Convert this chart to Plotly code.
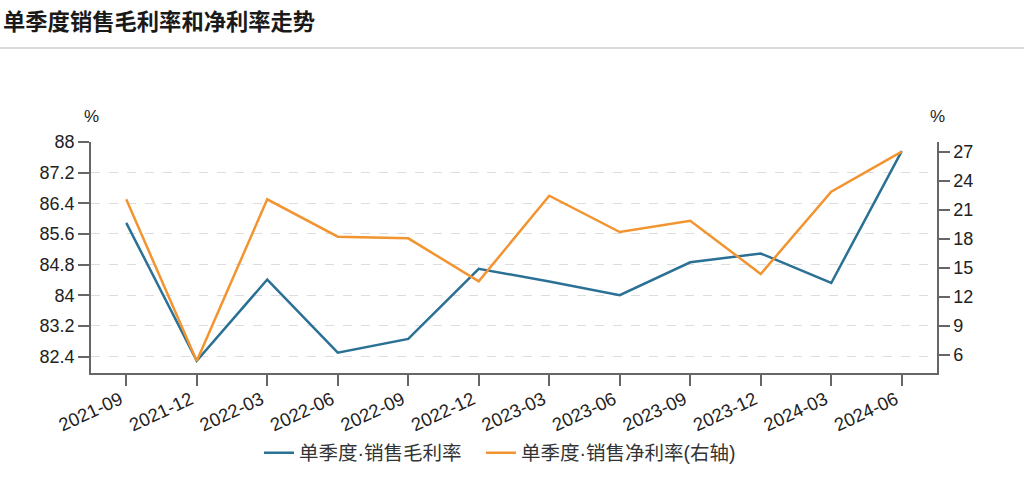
import plotly.graph_objects as go

categories = ["2021-09", "2021-12", "2022-03", "2022-06", "2022-09", "2022-12",
              "2023-03", "2023-06", "2023-09", "2023-12", "2024-03", "2024-06"]
gross_margin = [85.89, 82.29, 84.41, 82.50, 82.86, 84.69, 84.36, 84.00, 84.86, 85.09, 84.32, 87.76]
net_margin = [22.08, 5.38, 22.08, 18.22, 18.05, 13.61, 22.45, 18.70, 19.87, 14.37, 22.87, 27.00]
left_ticks = [82.4, 83.2, 84, 84.8, 85.6, 86.4, 87.2, 88]
left_tick_text = ["82.4", "83.2", "84", "84.8", "85.6", "86.4", "87.2", "88"]
right_ticks = [6, 9, 12, 15, 18, 21, 24, 27]

name_gross = "单季度·销售毛利率"
name_net = "单季度·销售净利率(右轴)"
title_text = "单季度销售毛利率和净利率走势"

BLUE = "#2b7095"
ORANGE = "#f29430"
AXIS = "#666666"
FONT = "Liberation Sans, Arial, Noto Sans CJK SC, sans-serif"
LEG_FONT = dict(size=19.5, color="#333333", family="Liberation Sans, Noto Sans CJK SC, sans-serif")

W, H = 1024, 477
ML, MR, MT, MB = 91, 87, 142, 104
PW = W - ML - MR
PH = H - MT - MB

fig = go.Figure()
fig.add_trace(go.Scatter(x=categories, y=gross_margin, name=name_gross, mode="lines",
                         line=dict(color=BLUE, width=2.5), yaxis="y", legend="legend"))
fig.add_trace(go.Scatter(x=categories, y=net_margin, name=name_net, mode="lines",
                         line=dict(color=ORANGE, width=2.5), yaxis="y2", legend="legend2"))

fig.update_layout(
    width=W, height=H,
    margin=dict(l=ML, r=MR, t=MT, b=MB, pad=0, autoexpand=False),
    paper_bgcolor="white", plot_bgcolor="white",
    font=dict(family=FONT, color="#222222", size=18),
    showlegend=True,
    legend=dict(orientation="h", xref="container", yref="container",
                x=259 / W, xanchor="left", y=(H - 453) / H, yanchor="middle",
                font=LEG_FONT, itemwidth=30),
    legend2=dict(orientation="h", xref="container", yref="container",
                 x=481 / W, xanchor="left", y=(H - 453) / H, yanchor="middle",
                 font=LEG_FONT, itemwidth=30),
    title=dict(text="<b>" + title_text + "</b>", xref="container", yref="container",
               x=3 / W, xanchor="left", y=1 - 22 / H, yanchor="middle",
               font=dict(size=22.3, color="#1a1a1a", family="Noto Sans CJK SC, sans-serif")),
    xaxis=dict(type="category", range=[-0.5, len(categories) - 0.5], automargin=False,
               showline=True, linecolor=AXIS, linewidth=1.5,
               ticks="outside", ticklen=11, tickcolor=AXIS, tickwidth=1.5,
               tickangle=-25, showgrid=False, zeroline=False,
               ticklabelshift=-6, ticklabelstandoff=-4,
               tickfont=dict(size=18.5, color="#222222")),
    yaxis=dict(range=[81.97, 88.0], tickvals=left_ticks, ticktext=left_tick_text,
               automargin=False,
               showline=True, linecolor=AXIS, linewidth=1.5,
               ticks="outside", ticklen=11, tickcolor=AXIS, tickwidth=1.5,
               showgrid=True, gridcolor="#dddddd", griddash="dash", gridwidth=1,
               zeroline=False, tickfont=dict(size=18, color="#222222")),
    yaxis2=dict(range=[4.14, 28.0], tickvals=right_ticks, overlaying="y", side="right",
                automargin=False,
                showline=True, linecolor=AXIS, linewidth=1.5,
                ticks="outside", ticklen=11, tickcolor=AXIS, tickwidth=1.5,
                showgrid=False, zeroline=False, tickfont=dict(size=18, color="#222222")),
    shapes=[dict(type="line", xref="paper", yref="paper",
                 x0=-ML / PW, x1=1 + MR / PW,
                 y0=(H - MB - 48) / PH, y1=(H - MB - 48) / PH,
                 line=dict(color="#cfcfcf", width=1.5))],
    annotations=[
        dict(text="%", xref="paper", yref="paper", x=0, y=1, xanchor="center",
             yanchor="bottom", yshift=14, showarrow=False, font=dict(size=17, color="#222222")),
        dict(text="%", xref="paper", yref="paper", x=1, y=1, xanchor="center",
             yanchor="bottom", yshift=14, showarrow=False, font=dict(size=17, color="#222222")),
    ],
)

fig.write_html("out.html", config={"displayModeBar": False},
               post_script="document.body.style.margin='0';")
